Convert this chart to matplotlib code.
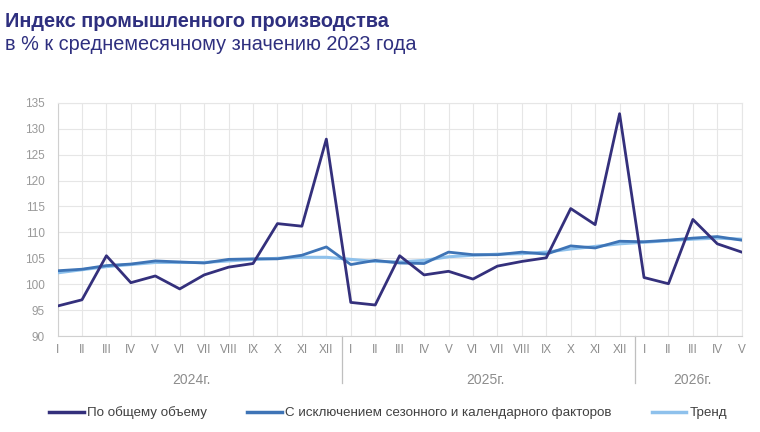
import matplotlib
matplotlib.use("Agg")
import matplotlib.pyplot as plt
from matplotlib.lines import Line2D

months = ["I", "II", "III", "IV", "V", "VI", "VII", "VIII", "IX", "X", "XI", "XII"]
tick_labels = months + months + months[:5]
years = ["2024г.", "2025г.", "2026г."]
year_counts = [12, 12, 5]

total = [95.8, 97.0, 105.5, 100.3, 101.6, 99.1, 101.8, 103.3, 104.0, 111.7, 111.2, 128.0,
         96.5, 96.0, 105.5, 101.8, 102.5, 101.0, 103.5, 104.4, 105.1, 114.6, 111.5, 132.9,
         101.3, 100.1, 112.5, 107.8, 106.2]
seasonal = [102.6, 102.9, 103.6, 103.9, 104.5, 104.3, 104.1, 104.8, 104.9, 104.9, 105.6, 107.2,
            103.8, 104.6, 104.1, 104.0, 106.2, 105.7, 105.7, 106.2, 105.8, 107.4, 107.0, 108.3,
            108.2, 108.5, 108.9, 109.2, 108.5]
trend = [102.2, 102.8, 103.4, 103.8, 104.2, 104.2, 104.2, 104.5, 104.8, 105.0, 105.2, 105.2,
         104.8, 104.4, 104.3, 104.6, 105.3, 105.6, 105.8, 105.9, 106.2, 106.8, 107.3, 107.8,
         108.1, 108.4, 108.7, 108.9, 108.7]

labels = ["По общему объему", "С исключением сезонного и календарного факторов", "Тренд"]
c_total = "#34307C"
c_seas = "#3E74B6"
c_trend = "#8EC1EC"
grey = "#8C8C8C"

plt.rcParams['font.family'] = ['Liberation Sans', 'DejaVu Sans']
narrow = ['Liberation Sans Narrow', 'Liberation Sans', 'DejaVu Sans']

fig = plt.figure(figsize=(7.6, 4.32), dpi=100)
ax = fig.add_axes([0.0757, 0.222, 0.9003, 0.54])

x = list(range(len(total)))
ax.plot(x, trend, color=c_trend, lw=2.2, zorder=3)
ax.plot(x, seasonal, color=c_seas, lw=2.0, zorder=4)
ax.plot(x, total, color=c_total, lw=2.0, zorder=5)

ax.set_xlim(0, len(total) - 1)
ax.set_ylim(90, 135)
ax.set_yticks(range(90, 136, 5))
ax.set_xticks(x)
ax.set_xticklabels(tick_labels, fontfamily=narrow, fontsize=8.5, color=grey)
ax.tick_params(axis='y', labelsize=8.5, labelcolor="#999999", length=0, pad=9)
ax.tick_params(axis='x', length=0, pad=6)
for lab in ax.get_yticklabels():
    lab.set_fontfamily(narrow)
ax.grid(True, color="#E6E6E6", lw=0.8)
ax.set_axisbelow(True)
for s in ["top", "right"]:
    ax.spines[s].set_color("#E6E6E6")
ax.spines["left"].set_color("#D0D0D0")
ax.spines["bottom"].set_color("#D0D0D0")

# year labels and separators
start = 0
trans = ax.get_xaxis_transform()
for i, (yr, n) in enumerate(zip(years, year_counts)):
    center = start + (n - 1) / 2
    ax.text(center, -0.19, yr, transform=trans, ha='center', va='center',
            fontsize=10, color=grey, fontfamily=narrow)
    if i > 0:
        xs = start - 0.35
        ax.add_line(Line2D([xs, xs], [0, -0.2], transform=trans, color="#BFBFBF",
                           lw=0.9, clip_on=False))
    start += n

# legend
handles = [Line2D([], [], color=c_total, lw=2.5),
           Line2D([], [], color=c_seas, lw=2.5),
           Line2D([], [], color=c_trend, lw=2.5)]
leg = fig.legend(handles, labels, loc='center', bbox_to_anchor=(0.511, 0.044), ncol=3,
                 frameon=False, handlelength=2.6, handletextpad=0.25,
                 columnspacing=3.0, prop={'family': narrow, 'size': 9.6})
for t in leg.get_texts():
    t.set_color("#404040")

fig.text(0.007, 0.972, "Индекс промышленного производства", fontsize=14.3,
         fontweight='bold', color="#2E2F7F", va='top', ha='left')
fig.text(0.007, 0.918, "в % к среднемесячному значению 2023 года", fontsize=14.3,
         color="#2E2F7F", va='top', ha='left')

fig.savefig("out.png", dpi=100)
